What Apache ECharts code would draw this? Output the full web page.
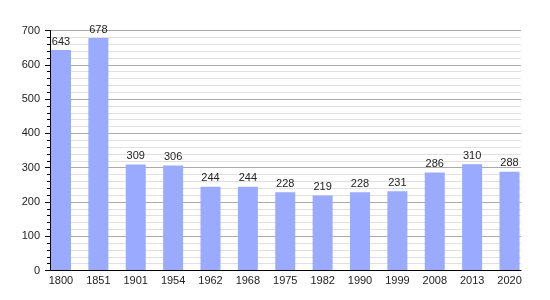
<!DOCTYPE html>
<html>
<head>
<meta charset="utf-8">
<script src="https://cdn.jsdelivr.net/npm/echarts@6/dist/echarts.min.js"></script>
<style>html,body{margin:0;padding:0;background:#fff;}#c{width:550px;height:300px;}</style>
</head>
<body>
<div id="c"></div>
<script>
var years = ['1800','1851','1901','1954','1962','1968','1975','1982','1990','1999','2008','2013','2020'];
var population = [643, 678, 309, 306, 244, 244, 228, 219, 228, 231, 286, 310, 288];
var yTicks = [0, 100, 200, 300, 400, 500, 600, 700];

var chart = echarts.init(document.getElementById('c'), null, {renderer: 'canvas'});
var font = 'Liberation Sans, Arial, sans-serif';
chart.setOption({
  animation: false,
  backgroundColor: '#fff',
  grid: [
    {left: 50, right: 29, top: 30.5, height: 240},
    {left: 42.3, width: 485.9, top: 30.5, height: 240}
  ],
  xAxis: [
    {gridIndex: 0, type: 'value', min: 0, max: 1, z: 10,
     axisLine: {show: true, lineStyle: {color: '#000', width: 1}},
     axisTick: {show: false}, axisLabel: {show: false}, splitLine: {show: false}},
    {gridIndex: 1, type: 'category', data: years,
     axisLine: {show: false}, axisTick: {show: false},
     axisLabel: {margin: 5, fontSize: 11, color: '#222', fontFamily: font}}
  ],
  yAxis: [
    {gridIndex: 0, type: 'value', min: yTicks[0], max: yTicks[yTicks.length-1], interval: 100,
     axisLine: {show: true, lineStyle: {color: '#000', width: 1}},
     axisTick: {show: true, length: 5, lineStyle: {color: '#000'}},
     minorTick: {show: true, splitNumber: 5, length: 3, lineStyle: {color: '#000'}},
     splitLine: {show: true, lineStyle: {color: '#aaaaaa', width: 1}},
     minorSplitLine: {show: true, lineStyle: {color: '#e0e0e0', width: 1}},
     axisLabel: {margin: 10, fontSize: 11, color: '#222', fontFamily: font}},
    {gridIndex: 1, type: 'value', min: 0, max: 700, show: false, splitLine: {show: false}}
  ],
  series: [{
    type: 'bar', xAxisIndex: 1, yAxisIndex: 1, data: population,
    barWidth: 20, z: 5,
    itemStyle: {color: '#99aaff'},
    label: {show: true, position: 'top', distance: 3, fontSize: 11, color: '#222', fontFamily: font}
  }]
});
</script>
</body>
</html>
